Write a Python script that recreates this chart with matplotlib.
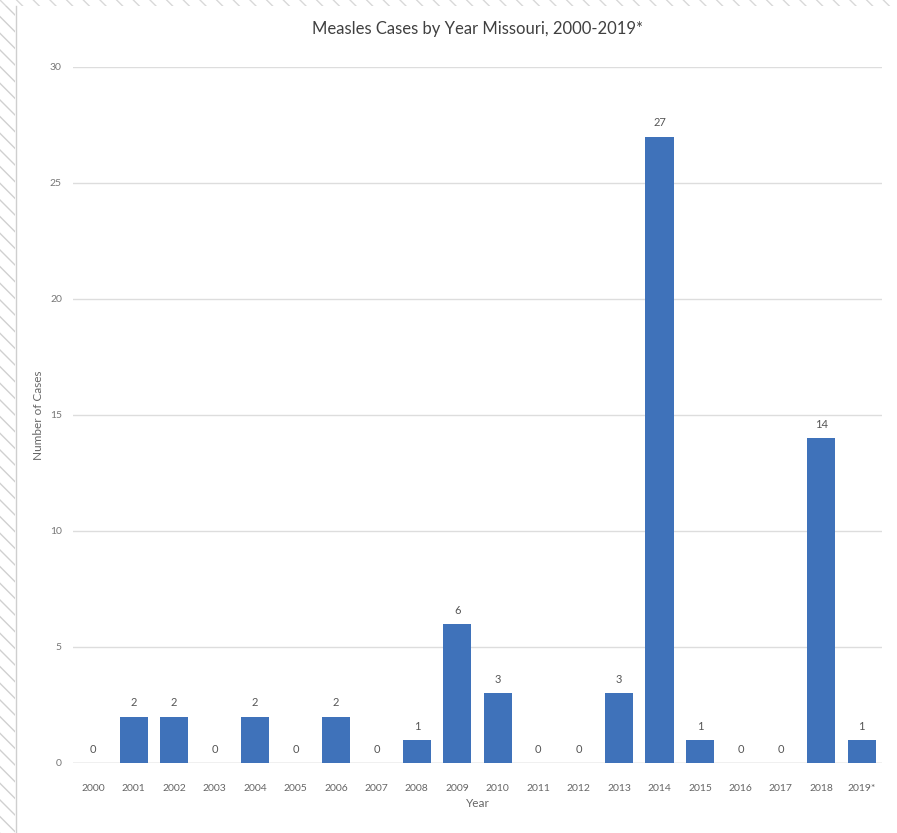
import matplotlib
matplotlib.use("Agg")
import matplotlib.pyplot as plt
from matplotlib.patches import Rectangle

years = ["2000", "2001", "2002", "2003", "2004", "2005", "2006", "2007", "2008", "2009",
         "2010", "2011", "2012", "2013", "2014", "2015", "2016", "2017", "2018", "2019*"]
cases = [0, 2, 2, 0, 2, 0, 2, 0, 1, 6, 3, 0, 0, 3, 27, 1, 0, 0, 14, 1]
yticks = [0, 5, 10, 15, 20, 25, 30]

plt.rcParams['font.family'] = ['Lato', 'DejaVu Sans']

fig = plt.figure(figsize=(8.97, 8.33), dpi=100)
W, H = 897, 833

# hatched border at left and top
fig.patches.append(Rectangle((0, 0), 15 / W, 1, transform=fig.transFigure,
                             facecolor='white', edgecolor='#d0d0d0', hatch='\\\\', lw=0, zorder=0))
fig.patches.append(Rectangle((0, 1 - 6 / H), 1, 6 / H, transform=fig.transFigure,
                             facecolor='white', edgecolor='#d8d8d8', hatch='\\\\', lw=0, zorder=0))
fig.add_artist(plt.Line2D([16 / W, 16 / W], [0, 1 - 6 / H], transform=fig.transFigure,
                          color='#cfcfcf', lw=1))

ax = fig.add_axes([73 / W, 1 - 763 / H, (882 - 73) / W, (763 - 67) / H])
x = range(len(years))
bars = ax.bar(x, cases, width=0.7, color='#3f72ba', zorder=3)
for xi, v in zip(x, cases):
    ax.text(xi, v + 0.35, str(v), ha='center', va='bottom', fontsize=8, color='#555555')

ax.set_xlim(-0.5, len(years) - 0.5)
ax.set_ylim(0, 30)
ax.set_yticks(yticks)
ax.set_yticklabels([str(t) for t in yticks], fontsize=7.5, color='#777777')
ax.set_xticks(list(x))
ax.set_xticklabels(years, fontsize=7.5, color='#666666')
ax.tick_params(axis='x', length=0, pad=15)
ax.tick_params(axis='y', length=0, pad=8)
ax.grid(axis='y', color='#dddddd', lw=1, zorder=0)
for s in ax.spines.values():
    s.set_visible(False)
ax.axhline(0, color='#d0d0d0', lw=1, zorder=2)

ax.set_title("Measles Cases by Year Missouri, 2000-2019*", fontsize=12, color='#404040', pad=24)
ax.set_xlabel("Year", fontsize=8.5, color='#666666', labelpad=4)
ax.set_ylabel("Number of Cases", fontsize=8.5, color='#666666', labelpad=4)

fig.savefig("out.png", dpi=100)
